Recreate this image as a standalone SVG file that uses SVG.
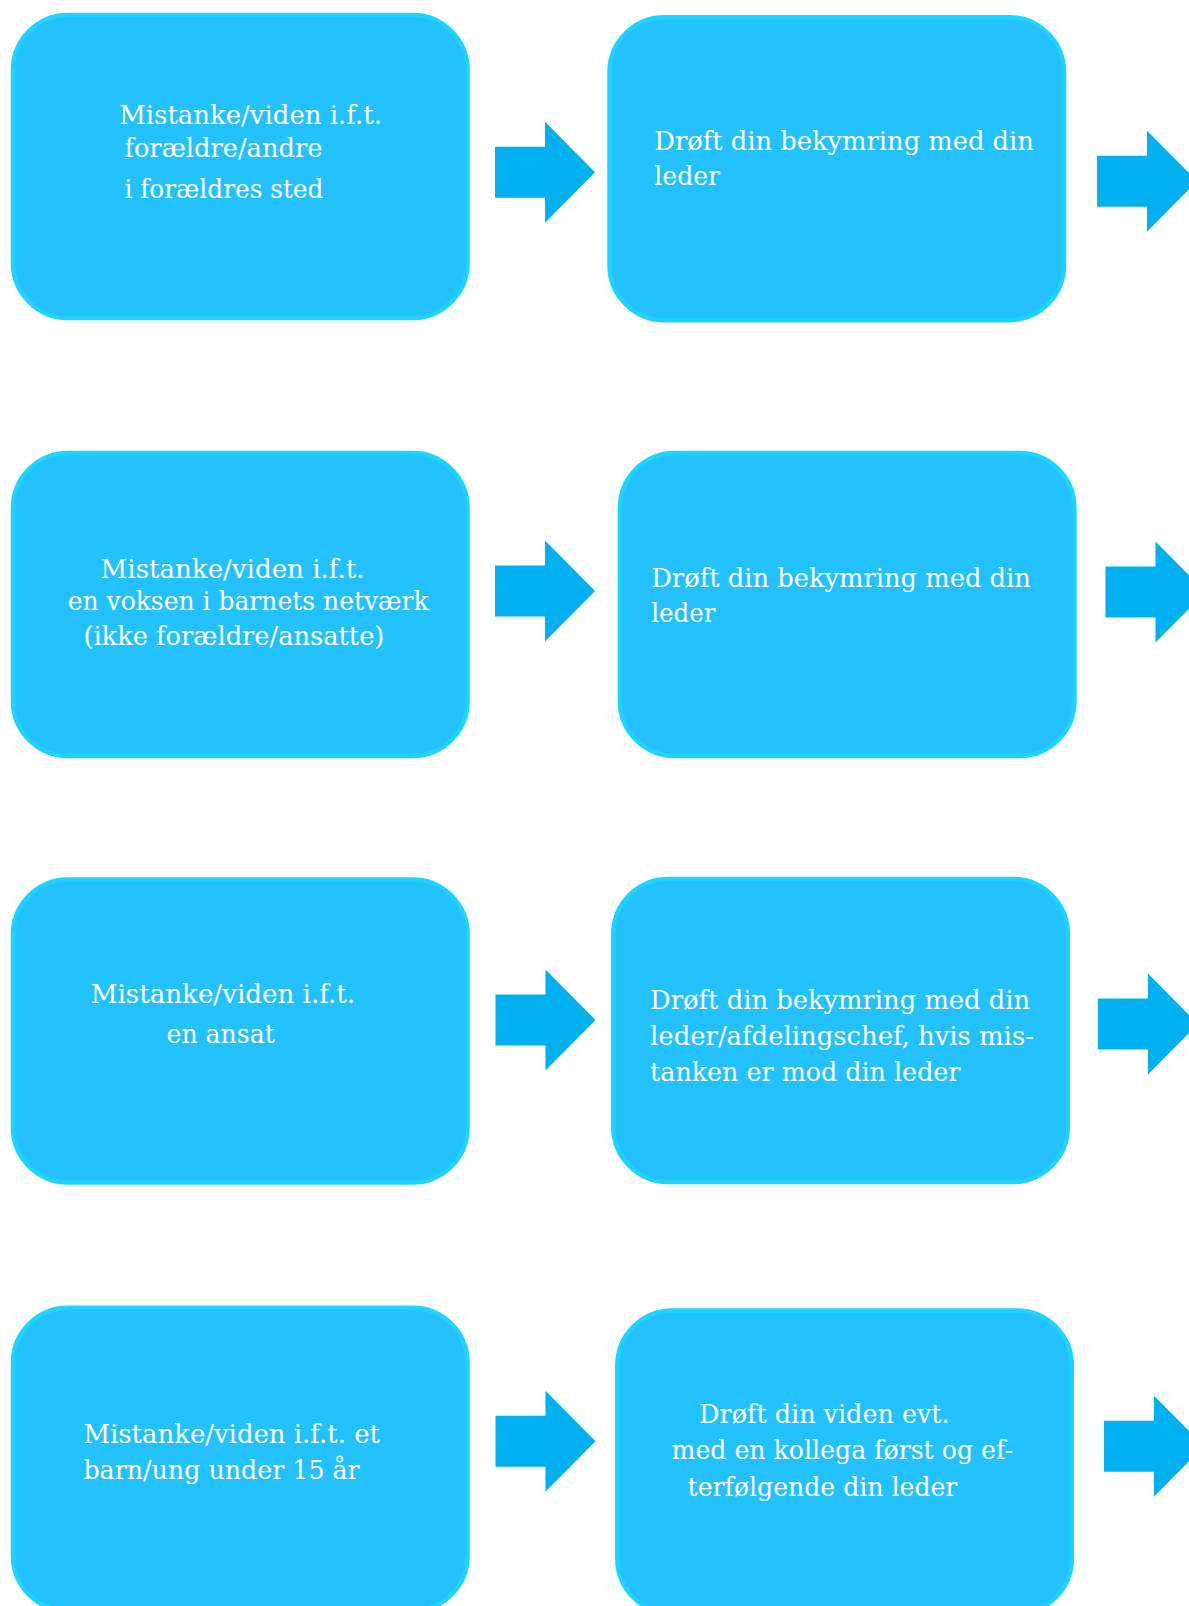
<svg xmlns="http://www.w3.org/2000/svg" width="1189" height="1606" viewBox="0 0 1189 1606">
<style>
.box{fill:#24c1ff;stroke:#1dd3ff;stroke-width:4.5}
.arr{fill:#00b0f0}
.t{font-family:"DejaVu Serif","Liberation Serif",serif;font-size:26px;fill:#ffffff}
</style>
<defs>
<polygon id="arrow" points="0,-25.5 50,-25.5 50,-50.5 100,0 50,50.5 50,25.5 0,25.5"/>
</defs>
<rect width="1189" height="1606" fill="#ffffff"/>
<g id="connectors">
<use href="#arrow" class="arr" x="495" y="172.2"/>
<use href="#arrow" class="arr" x="1097" y="181.2"/>
<use href="#arrow" class="arr" x="495" y="591"/>
<use href="#arrow" class="arr" x="1105.5" y="592"/>
<use href="#arrow" class="arr" x="495.5" y="1020"/>
<use href="#arrow" class="arr" x="1098" y="1024"/>
<use href="#arrow" class="arr" x="495.5" y="1441.2"/>
<use href="#arrow" class="arr" x="1104" y="1446.2"/>
</g>
<g id="node-a1">
<rect class="box" x="13" y="15" width="454.5" height="303" rx="55"/>
<text class="t" x="119.2" y="124" textLength="262.8" lengthAdjust="spacingAndGlyphs">Mistanke/viden i.f.t.</text>
<text class="t" x="124.4" y="157" textLength="198" lengthAdjust="spacingAndGlyphs">forældre/andre</text>
<text class="t" x="124.4" y="197.7" textLength="199" lengthAdjust="spacingAndGlyphs">i forældres sted</text>
</g>
<g id="node-b1">
<rect class="box" x="609.5" y="17.2" width="454.5" height="303" rx="55"/>
<text class="t" x="654.3" y="149.5" textLength="379.6" lengthAdjust="spacingAndGlyphs">Drøft din bekymring med din</text>
<text class="t" x="654.3" y="184.5" textLength="65.8" lengthAdjust="spacingAndGlyphs">leder</text>
</g>
<g id="node-a2">
<rect class="box" x="13" y="453" width="454.5" height="303" rx="55"/>
<text class="t" x="100.6" y="578.3" textLength="264" lengthAdjust="spacingAndGlyphs">Mistanke/viden i.f.t.</text>
<text class="t" x="67.7" y="610" textLength="361" lengthAdjust="spacingAndGlyphs">en voksen i barnets netværk</text>
<text class="t" x="83.4" y="645" textLength="301" lengthAdjust="spacingAndGlyphs">(ikke forældre/ansatte)</text>
</g>
<g id="node-b2">
<rect class="box" x="619.9" y="453" width="454.5" height="303" rx="55"/>
<text class="t" x="651.2" y="587.3" textLength="379.7" lengthAdjust="spacingAndGlyphs">Drøft din bekymring med din</text>
<text class="t" x="651.2" y="622.3" textLength="64.3" lengthAdjust="spacingAndGlyphs">leder</text>
</g>
<g id="node-a3">
<rect class="box" x="13" y="879.5" width="454.5" height="303" rx="55"/>
<text class="t" x="90.7" y="1003.3" textLength="264.4" lengthAdjust="spacingAndGlyphs">Mistanke/viden i.f.t.</text>
<text class="t" x="166.5" y="1042.7" textLength="108.3" lengthAdjust="spacingAndGlyphs">en ansat</text>
</g>
<g id="node-b3">
<rect class="box" x="613.3" y="879" width="454.5" height="303" rx="55"/>
<text class="t" x="650.1" y="1009" textLength="380" lengthAdjust="spacingAndGlyphs">Drøft din bekymring med din</text>
<text class="t" x="650.1" y="1045" textLength="383.8" lengthAdjust="spacingAndGlyphs">leder/afdelingschef, hvis mis-</text>
<text class="t" x="650.1" y="1080.7" textLength="310.4" lengthAdjust="spacingAndGlyphs">tanken er mod din leder</text>
</g>
<g id="node-a4">
<rect class="box" x="13" y="1307.8" width="454.5" height="303" rx="55"/>
<text class="t" x="83.4" y="1443.3" textLength="296.6" lengthAdjust="spacingAndGlyphs">Mistanke/viden i.f.t. et</text>
<text class="t" x="83.4" y="1479.3" textLength="276.3" lengthAdjust="spacingAndGlyphs">barn/ung under 15 år</text>
</g>
<g id="node-b4">
<rect class="box" x="617.3" y="1310.6" width="454.5" height="303" rx="55"/>
<text class="t" x="699.1" y="1423.3" textLength="250.6" lengthAdjust="spacingAndGlyphs">Drøft din viden evt.</text>
<text class="t" x="671.5" y="1459.3" textLength="341.4" lengthAdjust="spacingAndGlyphs">med en kollega først og ef-</text>
<text class="t" x="687.6" y="1496" textLength="269.8" lengthAdjust="spacingAndGlyphs">terfølgende din leder</text>
</g>
</svg>
